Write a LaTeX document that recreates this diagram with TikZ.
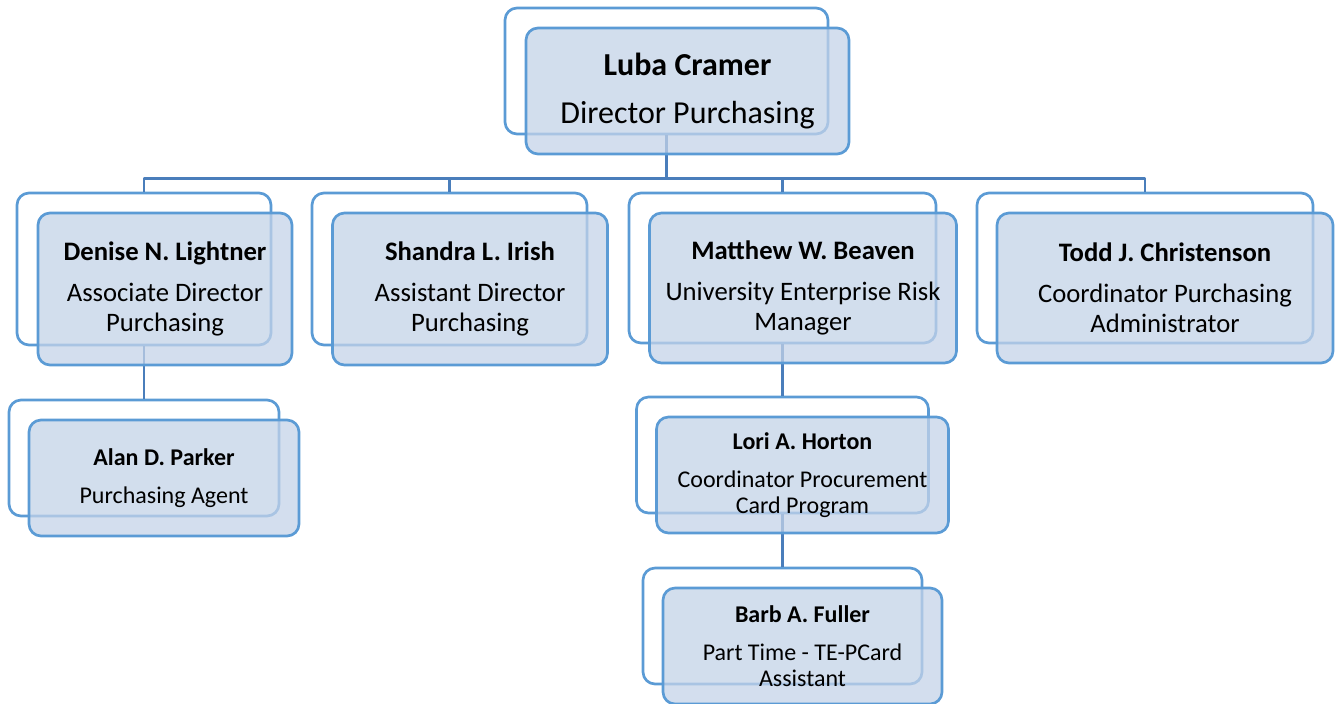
\documentclass[tikz,border=0pt]{standalone}
\usepackage{fontspec}
\usepackage{tikz}
\usepackage{xcolor}
\setmainfont{Carlito}
\definecolor{orgline}{RGB}{91,155,213}
\definecolor{orglink}{RGB}{74,126,187}
\definecolor{orgfill}{RGB}{196,211,232}

\begin{document}
\begin{tikzpicture}[x=0.75pt,y=-0.75pt,line join=round,
	backbox/.style={draw=orgline,fill=white,line width=2pt,rounded corners=9pt,inner sep=0pt},
	frontbox/.style={draw=orgline,fill=orgfill,fill opacity=0.75,text opacity=1,text=black,line width=2pt,rounded corners=9pt,inner sep=0pt,align=center},
	boxsize/.style 2 args={minimum width=#1,minimum height=#2},
	link/.style={draw=orglink,line width=1.8pt},
	lvlone/.style={font=\fontsize{24}{29}\selectfont},
	lvltwo/.style={font=\fontsize{20}{22.5}\selectfont},
	lvlthree/.style={font=\fontsize{18}{19.5}\selectfont},]
							\useasboundingbox (0,0) rectangle (1338,703);
							\node[backbox,boxsize={242.25pt}{94.5pt}] (lubab) at (666.5,71) {};
							\node[backbox,boxsize={190.5pt}{114pt}] (deniseb) at (144,269) {};
							\node[backbox,boxsize={206.25pt}{114pt}] (shandrab) at (449.5,269) {};
							\node[backbox,boxsize={230.25pt}{112.5pt}] (matthewb) at (782.5,268) {};
							\node[backbox,boxsize={252pt}{112.5pt}] (toddb) at (1145,268) {};
							\node[backbox,boxsize={202.5pt}{87pt}] (alanb) at (144,458) {};
							\node[backbox,boxsize={219pt}{87pt}] (lorib) at (782.5,455) {};
							\node[backbox,boxsize={209.25pt}{87pt}] (barbb) at (782.5,626) {};
							\draw[link] (lubab.south) -- ++(0,43) -| (deniseb.north); \draw[link] (lubab.south) -- ++(0,43) -| (shandrab.north); \draw[link] (lubab.south) -- ++(0,43) -| (matthewb.north); \draw[link] (lubab.south) -- ++(0,43) -| (toddb.north);
							\draw[link] (deniseb.south) -- (alanb.north);
							\draw[link] (matthewb.south) -- (lorib.north); \draw[link] (lorib.south) -- (barbb.north);
							\node[frontbox,lvlone,boxsize={242.25pt}{94.5pt}] (luba) at (687.5,91) {\textbf{Luba Cramer}\\[7pt]Director Purchasing};
							\node[frontbox,lvltwo,boxsize={190.5pt}{114pt}] (denise) at (165,289) {\textbf{Denise N. Lightner}\\[8.5pt]Associate Director\\Purchasing};
							\node[frontbox,lvltwo,boxsize={206.25pt}{114pt}] (shandra) at (470,289) {\textbf{Shandra L. Irish}\\[8.5pt]Assistant Director\\Purchasing};
							\node[frontbox,lvltwo,boxsize={230.25pt}{112.5pt}] (matthew) at (803,288) {\textbf{Matthew W. Beaven}\\[8.5pt]University Enterprise Risk\\Manager};
							\node[frontbox,lvltwo,boxsize={252pt}{112.5pt}] (todd) at (1165,288) {\textbf{Todd J. Christenson}\\[8.5pt]Coordinator Purchasing\\Administrator};
							\node[frontbox,lvlthree,boxsize={202.5pt}{87pt}] (alan) at (164,478) {\textbf{Alan D. Parker}\\[9pt]Purchasing Agent};
							\node[frontbox,lvlthree,boxsize={219pt}{87pt}] (lori) at (802.5,475) {\textbf{Lori A. Horton}\\[9pt]Coordinator Procurement\\Card Program};
							\node[frontbox,lvlthree,boxsize={209.25pt}{87pt}] (barb) at (802.5,646) {\textbf{Barb A. Fuller}\\[9pt]Part Time - TE-PCard\\Assistant};

						\end{tikzpicture}
\end{document}
